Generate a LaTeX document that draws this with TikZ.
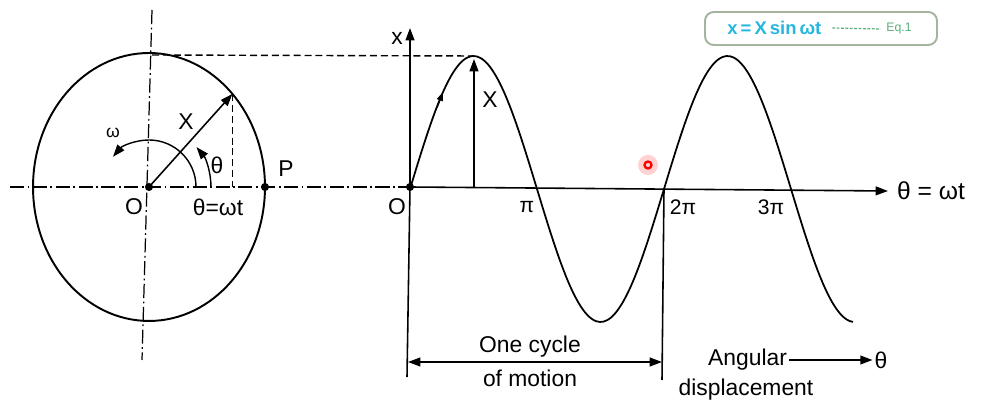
\documentclass[tikz,border=0pt]{standalone}
\usepackage{fontspec}
\setmainfont{Liberation Sans}
\usepackage{tikz}
\usetikzlibrary{arrows.meta, positioning, calc}
\definecolor{eqcyan}{RGB}{38,182,222}
\definecolor{eqgreen}{RGB}{90,175,120}
\definecolor{boxgray}{RGB}{165,180,160}

\tikzset{
  axisline/.style={line width=0.9pt},
  centreline/.style={line width=0.7pt, dash pattern=on 8pt off 2pt on 1pt off 2pt},
  projline/.style={line width=0.8pt, dash pattern=on 4pt off 2.2pt},
  tip/.style={-{Triangle[length=7pt,width=5pt]}},
  lbl/.style={font=\fontsize{13}{15}\selectfont, inner sep=1pt},
}

\begin{document}
\begin{tikzpicture}[x=0.02cm, y=0.02cm]
  \useasboundingbox (0,0) rectangle (987,405);

  % Reference circle
  \coordinate (O) at (149,218);
  \coordinate (O2) at (410,218);
  \coordinate (P) at (265,218);
  \coordinate (A) at ($(O)+(44:2.32cm and 2.68cm)$);
  \coordinate (Pk) at (473.5,349);
  \draw[line width=1.1pt] (O) ellipse [x radius=2.32cm, y radius=2.68cm];
  \draw[centreline] (152,395) -- (142,45);
  \draw[centreline] (10,218) -- (O2);
  \draw[projline] (A) -- (A |- O);
  \draw[projline] (152,350) -- (Pk);
  \draw[axisline, tip] (O) -- (A);
  \draw[line width=0.8pt, tip] ($(O)+(47,0)$) arc[start angle=0, end angle=140, radius=47];
  \draw[line width=0.8pt, tip] ($(O)+(62,0)$) arc[start angle=0, end angle=40, radius=62];
  \fill (O) circle (2.3pt);
  \fill (P) circle (2.3pt);
  \node[lbl, font=\fontsize{10}{12}\selectfont] (omega) at (113,272) {ω};
  \node[lbl] (Xv) at (186,283) {X};
  \node[lbl] (th) at (217,240) {θ};
  \node[lbl] (Olbl) at (134,198) {O};
  \node[lbl] (thwt) at (218,198) {θ=ωt};
  \node[lbl] (Plbl) at (286,236) {P};

  % Sine curve
  \draw[axisline, tip] (O2) -- (410,377) coordinate (xtop);
  \node[lbl] (xlbl) at (397,367) {x};
  \draw[axisline, tip] (O2) -- (888,214) coordinate (thend);
  \node[lbl, font=\fontsize{14}{16}\selectfont, anchor=west] (thlbl) at (895,214) {θ = ωt};
  \draw[line width=1pt] plot[domain=410:853, samples=120, smooth] (\x, {216+133*sin((\x-410)/127*180)});
  \fill (O2) circle (2.3pt);
  \draw[axisline, tip] (474,218) -- (474,346);
  \node[lbl] (Xa) at (490,305) {X};
  \draw[line width=0.8pt, -{Triangle[length=5pt,width=3.5pt]}] (437,297.5) -- (443,313);
  \node[lbl, font=\fontsize{12}{14}\selectfont] (pi1) at (527,198) {π};
  \node[lbl, font=\fontsize{12}{14}\selectfont] (pi2) at (683,198) {2π};
  \node[lbl, font=\fontsize{12}{14}\selectfont] (pi3) at (771,198) {3π};
  \node[lbl] (O2lbl) at (397,198) {O};

  % One cycle
  \coordinate (C2) at (664,216);
  \coordinate (L) at (408,43);
  \coordinate (R) at (662,43);
  \draw[axisline] (O2) -- (407,28);
  \draw[axisline] (C2) -- (662,25);
  \draw[axisline, {Triangle[length=7pt,width=5pt]}-{Triangle[length=7pt,width=5pt]}] (L) -- (R);
  \node[lbl] (cyc1) at (530,58) {One cycle};
  \node[lbl] (cyc2) at (530,27) {of motion};

  % Angular displacement
  \node[lbl, anchor=east] (ang1) at (789,45) {Angular};
  \node[lbl] (ang2) at (746,15) {displacement};
  \node[lbl] (thang) at (881,45) {θ};
  \draw[axisline, tip] (ang1.east) -- (thang.west);

  % Equation
  \draw[draw=boxgray, rounded corners=5pt, line width=1.1pt] (705,360) rectangle (937,393);
  \node[anchor=west, inner sep=0pt, text=eqcyan, font=\fontsize{10.5}{12}\selectfont\bfseries]
        (eqtxt) at (727,377) {x\,=\,X\,sin\,ωt};
  \node[anchor=east, inner sep=0pt, text=eqgreen, font=\fontsize{7}{8}\selectfont]
        (eqno) at (912,376) {Eq.1};
  \draw[eqgreen, line width=0.7pt, dash pattern=on 1.6pt off 0.9pt]
        ([xshift=6pt]eqtxt.east) -- ([xshift=-3pt]eqno.west);

  % Pointer dot
  \fill[red!18] (648,240) circle (10);
  \draw[red, line width=1.3pt] (648,240) circle (3.5);
\end{tikzpicture}
\end{document}
